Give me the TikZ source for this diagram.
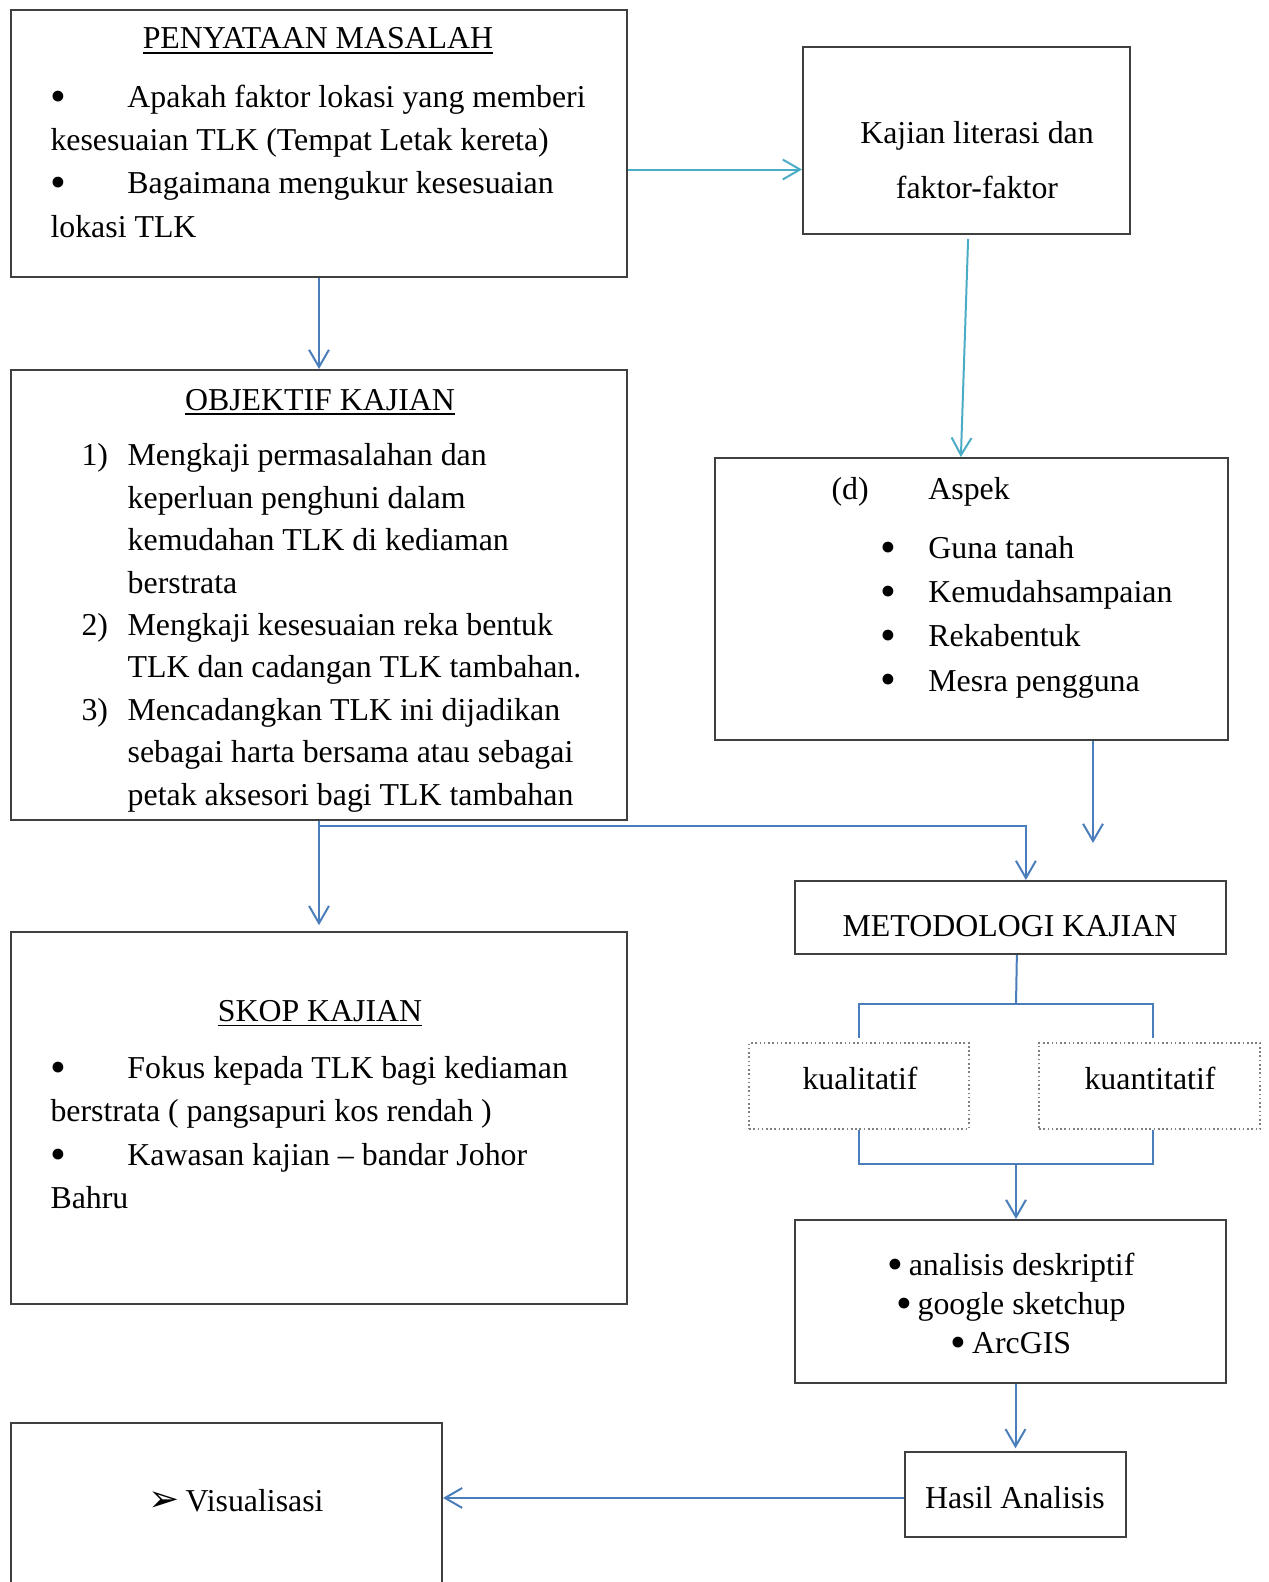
\documentclass[tikz,border=0pt]{standalone}
\usepackage{fontspec}
\setmainfont{Liberation Serif}
\newfontfamily\symfont{DejaVu Sans}
\usetikzlibrary{arrows.meta, positioning, fit}
\definecolor{boxline}{HTML}{404040}
\definecolor{arrblue}{HTML}{4A7EBB}
\definecolor{arrcyan}{HTML}{4BACC6}
\newcommand{\bigbul}{\raisebox{-1.5pt}{\fontsize{17}{17}\selectfont •}}
\newcommand{\bul}{\makebox[29pt][l]{\bigbul}}
\newcommand{\numi}[1]{\makebox[17.4pt][l]{#1}}
\newcommand{\hng}{\hspace*{17.4pt}}
\tikzset{
  box/.style   = {draw=boxline, line width=0.75pt, inner sep=0pt},
  dbox/.style  = {draw=gray, densely dotted, line width=0.6pt, inner sep=0pt},
  txt/.style   = {inner sep=0pt, align=left, anchor=base west,
                  font=\fontsize{12}{16.3}\selectfont},
  ttl/.style   = {inner sep=0pt, anchor=base, font=\fontsize{12}{14}\selectfont},
  link/.style  = {draw=arrblue, line width=0.75pt},
  flow/.style  = {link, -{Straight Barb[length=6.5pt, width=7.5pt]}},
  cflow/.style = {flow, draw=arrcyan}
}

\begin{document}
\begin{tikzpicture}[x=0.3768pt, y=-0.3768pt]
  \useasboundingbox (0,0) rectangle (1268,1582);
  \clip (0,0) rectangle (1268,1582);
  % boxes
  \node[box, fit={(11,10) (627,277)}] (pm) {};
  \node[box, fit={(803,47) (1130,234)}] (kaj) {};
  \node[box, fit={(11,370) (627,820)}] (obj) {};
  \node[box, fit={(715,458) (1228,740)}] (asp) {};
  \node[box, fit={(795,881) (1226,954)}] (met) {};
  \node[dbox, fit={(749,1043) (969,1129)}] (kual) {};
  \node[dbox, fit={(1039,1043) (1260,1129)}] (kuan) {};
  \node[box, fit={(795,1220) (1226,1383)}] (ana) {};
  \node[box, fit={(905,1452) (1126,1537)}] (has) {};
  \node[box, fit={(11,932) (627,1304)}] (skop) {};
  \node[box, fit={(11,1423) (442,1640)}] (vis) {};
  % texts (multi-line nodes sit on their last baseline)
  \node[ttl] (pm-t) at (318,49) {\underline{PENYATAAN MASALAH}};
  \node[txt] (pm-b) at (50,237)
       {\bul Apakah faktor lokasi yang memberi\\
        kesesuaian TLK (Tempat Letak kereta)\\
        \bul Bagaimana mengukur kesesuaian\\
        lokasi TLK};
  \node[ttl, align=center, font=\fontsize{12}{20.9}\selectfont] (kaj-t) at (977,198.6)
       {Kajian literasi dan\\faktor-faktor};
  \node[ttl] (obj-t) at (320,410) {\underline{OBJEKTIF KAJIAN}};
  \node[txt, font=\fontsize{12}{15.97}\selectfont] (obj-b) at (81,805)
       {\numi{1)}Mengkaji permasalahan dan\\
        \hng keperluan penghuni dalam\\
        \hng kemudahan TLK di kediaman\\
        \hng berstrata\\
        \numi{2)}Mengkaji kesesuaian reka bentuk\\
        \hng TLK dan cadangan TLK tambahan.\\
        \numi{3)}Mencadangkan TLK ini dijadikan\\
        \hng sebagai harta bersama atau sebagai\\
        \hng petak aksesori bagi TLK tambahan};
  \node[txt, font=\fontsize{12}{16.7}\selectfont] (asp-b) at (831,691)
       {\makebox[36.5pt][l]{(d)}Aspek\\[5.4pt]
        \hspace*{18.5pt}\makebox[18pt][l]{\bigbul}Guna tanah\\
        \hspace*{18.5pt}\makebox[18pt][l]{\bigbul}Kemudahsampaian\\
        \hspace*{18.5pt}\makebox[18pt][l]{\bigbul}Rekabentuk\\
        \hspace*{18.5pt}\makebox[18pt][l]{\bigbul}Mesra pengguna};
  \node[ttl] (met-t) at (1010,936) {METODOLOGI KAJIAN};
  \node[ttl] (kual-t) at (860,1089) {kualitatif};
  \node[ttl] (kuan-t) at (1150,1089) {kuantitatif};
  \node[ttl, align=center, font=\fontsize{12}{14.8}\selectfont] (ana-t) at (1011,1353.7)
       {\bigbul\,analisis deskriptif\\\bigbul\,google sketchup\\\bigbul\,ArcGIS};
  \node[ttl] (skop-t) at (320,1021) {\underline{SKOP KAJIAN}};
  \node[txt] (skop-b) at (50,1208.4)
       {\bul Fokus kepada TLK bagi kediaman\\
        berstrata ( pangsapuri kos rendah )\\
        \bul Kawasan kajian – bandar Johor\\
        Bahru};
  \node[txt] (vis-t) at (148,1511)
       {\makebox[14pt][l]{\symfont\fontsize{14}{14}\selectfont ➢}Visualisasi};
  \node[ttl] (has-t) at (1015,1508) {Hasil Analisis};
  % connectors
  \draw[cflow] ([yshift=-9.8pt]pm.east) -- ([yshift=-9.8pt]pm.east -| kaj.west);
  \draw[flow] (pm.south) -- (obj.north);
  \draw[cflow] ([xshift=0.6pt, yshift=-1.5pt]kaj.south) -- ([xshift=-4pt]asp.north);
  \coordinate (asp-out) at (1093,843);
  \draw[flow] (asp.south -| asp-out) -- (asp-out);
  \draw[flow, shorten >=2.2pt] (obj.south) -- (skop.north);
  \draw[flow] (obj.south) -- ++(0,5) -| ([xshift=5.8pt]met.north);
  \coordinate (fork-up) at (1016,1004);
  \coordinate (fork-dn) at (1016,1164);
  \draw[link] ([xshift=2.4pt]met.south) -- (fork-up);
  \draw[link] ([yshift=1.5pt]kual.north) |- (fork-up) -| ([xshift=1.3pt, yshift=1.5pt]kuan.north);
  \draw[link] (kual.south) |- (fork-dn) -| ([xshift=1.3pt]kuan.south);
  \draw[flow] (fork-dn) -- (fork-dn |- ana.north);
  \draw[flow, shorten >=1pt] (ana.south -| has.north) -- (has.north);
  \draw[flow] ([yshift=-1.3pt]has.west) -- ([yshift=-1.3pt]has.west -| vis.east);
\end{tikzpicture}
\end{document}
